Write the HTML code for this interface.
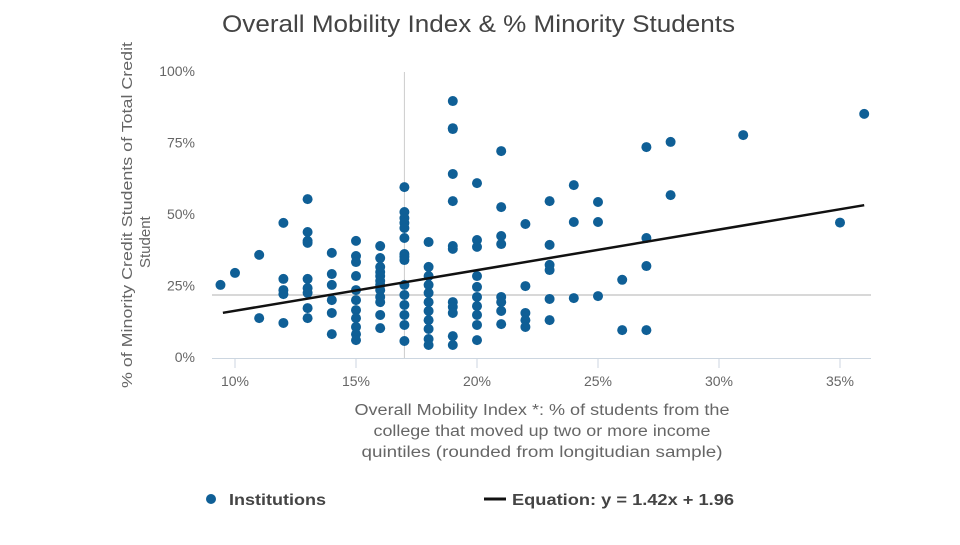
<!DOCTYPE html>
<html><head><meta charset="utf-8"><style>
body{margin:0;background:#fff;font-family:"Liberation Sans",sans-serif;}
svg text{font-family:"Liberation Sans",sans-serif;}
</style></head><body>
<svg id="chart" width="960" height="540" viewBox="0 0 960 540">
<text x="222" y="32" font-size="24" fill="#444" textLength="513" lengthAdjust="spacingAndGlyphs">Overall Mobility Index &amp; % Minority Students</text>
<g transform="translate(132,388) rotate(-90)">
<text x="0" y="0" font-size="15" fill="#666" textLength="346" lengthAdjust="spacingAndGlyphs">% of Minority Credit Students of Total Credit</text>
<text x="120" y="18" font-size="15" fill="#666">Student</text>
</g>
<g id="grid"></g>
<g id="yticks"></g>
<g id="xticks"></g>
<g id="points"></g>
<g id="trend"></g>
<g font-size="15.5" fill="#666" text-anchor="middle">
<text x="542" y="415" textLength="375" lengthAdjust="spacingAndGlyphs">Overall Mobility Index *: % of students from the</text>
<text x="542" y="436" textLength="337" lengthAdjust="spacingAndGlyphs">college that moved up two or more income</text>
<text x="542" y="457" textLength="361" lengthAdjust="spacingAndGlyphs">quintiles (rounded from longitudian sample)</text>
</g>
<g>
<circle cx="211" cy="499" r="5" fill="#0f5f96"/>
<text x="229" y="505" font-size="16" font-weight="bold" fill="#444" textLength="97" lengthAdjust="spacingAndGlyphs">Institutions</text>
</g>
<g>
<line x1="484" y1="499" x2="506" y2="499" stroke="#111" stroke-width="3"/>
<text x="512" y="505" font-size="16" font-weight="bold" fill="#444" textLength="222" lengthAdjust="spacingAndGlyphs">Equation: y = 1.42x + 1.96</text>
</g>
</svg>
<script>
const xTicks=[10,15,20,25,30,35];
const yTicks=[0,25,50,75,100];
const colX=[9.4,10,11,12,13,14,15,16,17,18,19,20,21,22,23,24,25,26,27,28,31,35,36];
const colY=[
[25.2],
[29.4],
[35.7,13.6],
[46.9,27.3,23.4,22,11.9],
[55.2,43.7,40.6,39.9,27.3,24.1,22.4,17.1,13.6],
[36.4,29,25.2,19.9,15.4,8],
[40.6,35.3,33.2,28.3,23.4,19.9,16.4,13.6,10.5,8,5.9],
[38.8,34.6,31.5,29.7,28.3,26.6,25.2,23.4,21,19.2,14.7,10.1],
[59.4,50.7,48.6,46.9,45.1,41.6,36,35,33.9,25.2,21.7,18.2,14.7,11.2,5.6],
[40.2,31.5,28.3,25.2,22.4,19.2,16.1,12.9,9.8,6.3,4.2],
[89.5,80,79.7,64,54.5,38.8,37.8,19.2,17.5,15.4,7.3,4.2],
[60.8,40.9,38.5,28.3,24.5,21,17.8,14.7,11.2,5.9],
[72,52.4,42.3,39.5,21,19.2,16.1,11.5],
[46.5,24.8,15.4,12.9,10.5],
[54.5,39.2,32.2,30.4,20.3,12.9],
[60.1,47.2,20.6],
[54.2,47.2,21.3],
[27,9.4],
[73.4,41.6,31.8,9.4],
[75.2,56.6],
[77.6],
[47],
[85]];
const slope=1.42, intercept=1.96, trendX=[9.5,36];
const meanX=17, meanY=21.7;
const X=v=>235+(v-10)*24.2, Y=v=>357-v*2.86;
const NS="http://www.w3.org/2000/svg";
function mk(p,t,a){const e=document.createElementNS(NS,t);for(const k in a)e.setAttribute(k,a[k]);document.getElementById(p).appendChild(e);return e;}
let ax=mk('grid','line',{x1:212,y1:358.5,x2:871,y2:358.5,stroke:'#ccd6e0','stroke-width':1});


xTicks.forEach(t=>{
 const l=mk('grid','line',{x1:X(t),y1:358,x2:X(t),y2:368,stroke:'#ccd6e0'});
 
 
 const tx=mk('xticks','text',{x:X(t),y:386,'font-size':14,fill:'#666','text-anchor':'middle'});
 tx.textContent=t+'%';
 
 
});
yTicks.forEach(t=>{
 const tx=mk('yticks','text',{x:195,y:Y(t)+5,'font-size':14,fill:'#666','text-anchor':'end'});
 tx.textContent=t+'%';
 
 
});
const vm=mk('grid','line',{x1:X(meanX),y1:72,x2:X(meanX),y2:358,stroke:'#ccc'});


const hm=mk('grid','line',{x1:212,y1:Y(meanY),x2:871,y2:Y(meanY),stroke:'#ccc','stroke-width':1.5});


colX.forEach((x,i)=>{
 colY[i].forEach(y=>{
  const c=mk('points','circle',{cx:X(x),cy:Y(y),r:5,fill:'#0f5f96'});
  
  
 });
});
const tl=mk('trend','line',{x1:X(trendX[0]),y1:Y(slope*trendX[0]+intercept),x2:X(trendX[1]),y2:Y(slope*trendX[1]+intercept),stroke:'#111','stroke-width':2.5});


</script>
</body></html>
